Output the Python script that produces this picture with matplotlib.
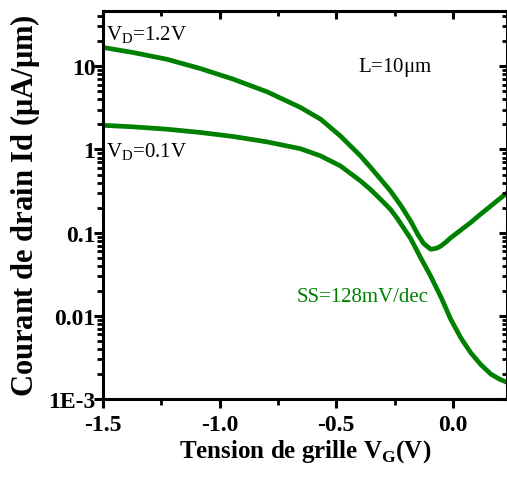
import matplotlib
matplotlib.use("Agg")
import matplotlib.pyplot as plt
from matplotlib.ticker import FixedLocator, MultipleLocator

plt.rcParams['font.family'] = ['Liberation Serif', 'DejaVu Serif']
plt.rcParams['mathtext.fontset'] = 'custom'
plt.rcParams['mathtext.rm'] = 'Liberation Serif'
plt.rcParams['mathtext.bf'] = 'Liberation Serif:bold'

# drain current vs gate voltage
vg_12 = [-1.5, -1.371, -1.225, -1.083, -0.941, -0.795, -0.653, -0.567, -0.482,
         -0.396, -0.353, -0.310, -0.267, -0.224, -0.181, -0.15, -0.125, -0.095,
         -0.07, -0.052, -0.03, -0.009, 0.035, 0.077, 0.12, 0.163, 0.2, 0.235]
id_12 = [16.8, 14.6, 12.1, 9.38, 6.98, 4.91, 3.19, 2.31, 1.45,
         0.837, 0.61, 0.44, 0.316, 0.214, 0.138, 0.095, 0.074, 0.0633,
         0.065, 0.069, 0.077, 0.087, 0.108, 0.133, 0.168, 0.21, 0.255, 0.304]

vg_01 = [-1.5, -1.371, -1.225, -1.083, -0.941, -0.795, -0.653, -0.567, -0.482,
         -0.396, -0.353, -0.310, -0.267, -0.238, -0.181, -0.138, -0.095, -0.05,
         -0.009, 0.035, 0.077, 0.12, 0.163, 0.2, 0.235]
id_01 = [1.95, 1.87, 1.75, 1.60, 1.43, 1.23, 1.02, 0.837, 0.634,
         0.419, 0.33, 0.252, 0.19, 0.148, 0.085, 0.05, 0.030, 0.0166,
         0.0091, 0.0054, 0.0036, 0.0026, 0.0020, 0.00174, 0.00158]

y_ticks = [1e-3, 1e-2, 1e-1, 1, 10]
y_labels = ['1E-3', '0.01', '0.1', '1', '10']
x_ticks = [-1.5, -1.0, -0.5, 0.0]
x_labels = ['-1.5', '-1.0', '-0.5', '0.0']

green = '#008000'
# 2..9 x each decade
minor_y = [m * 10.0 ** e for e in range(-3, 2) for m in range(2, 10)]


def setup_axis(a):
    a.set_yscale('log')
    a.set_xlim(-1.5, 0.232)
    a.set_ylim(1e-3, 46)
    a.xaxis.set_major_locator(FixedLocator(x_ticks))
    a.xaxis.set_minor_locator(MultipleLocator(0.25))
    a.yaxis.set_major_locator(FixedLocator(y_ticks))
    a.yaxis.set_minor_locator(FixedLocator(minor_y))


fig = plt.figure(figsize=(5.07, 4.81), dpi=100)
ax = fig.add_axes([0.203, 0.168, 0.797, 0.807])

for vg, idr in [(vg_12, id_12), (vg_01, id_01)]:
    ax.plot(vg, idr, color=green, lw=3.4, solid_joinstyle='round',
            solid_capstyle='butt')

setup_axis(ax)
ax.set_xticklabels(x_labels, fontweight='bold')
ax.set_yticklabels(y_labels, fontweight='bold')

for s in ax.spines.values():
    s.set_linewidth(2.2)

ax.set_xlabel(r'Tension de grille V$_\mathbf{G}$(V)', fontsize=18,
              fontweight='bold', labelpad=2)
ax.set_ylabel(r'Courant de drain Id ($\mathbf{\mu}$A/$\mathbf{\mu}$m)', fontsize=22,
              fontweight='bold', labelpad=4)

ax.text(-1.485, 24, r'V$_\mathregular{D}$=1.2V', fontsize=15, va='center', ha='left')
ax.text(-1.485, 0.95, r'V$_\mathregular{D}$=0.1V', fontsize=15, va='center', ha='left')
ax.text(-0.245, 10, r'L=10$\mathregular{\mu}$m', fontsize=15, va='center', ha='center')
ax.text(-0.387, 0.017, 'SS=128mV/dec', fontsize=15, va='center', ha='center',
        color=green)

# overlay axes for the inward ticks on top and right
ax2 = fig.add_axes(ax.get_position(), frameon=False)
setup_axis(ax2)
ax2.tick_params(which='both', direction='in', bottom=False, left=False,
                top=True, right=True, labelbottom=False, labelleft=False)
ax2.tick_params(which='major', length=6, width=2.2)
ax2.tick_params(which='minor', length=3.5, width=2)

# tick styling for the main axes, done last
ax.yaxis.set_minor_locator(FixedLocator(minor_y))
ax.xaxis.set_tick_params(which='major', direction='out', length=6.5, width=2.2,
                         labelsize=17, pad=4, bottom=True)
ax.yaxis.set_tick_params(which='major', direction='out', length=6.5, width=2.2,
                         labelsize=17, pad=-1, left=True)
ax.xaxis.set_tick_params(which='minor', direction='out', length=4, width=2,
                         bottom=True)
ax.yaxis.set_tick_params(which='minor', direction='out', length=4, width=2,
                         left=True, color='black')

fig.savefig('out.png', dpi=100)
